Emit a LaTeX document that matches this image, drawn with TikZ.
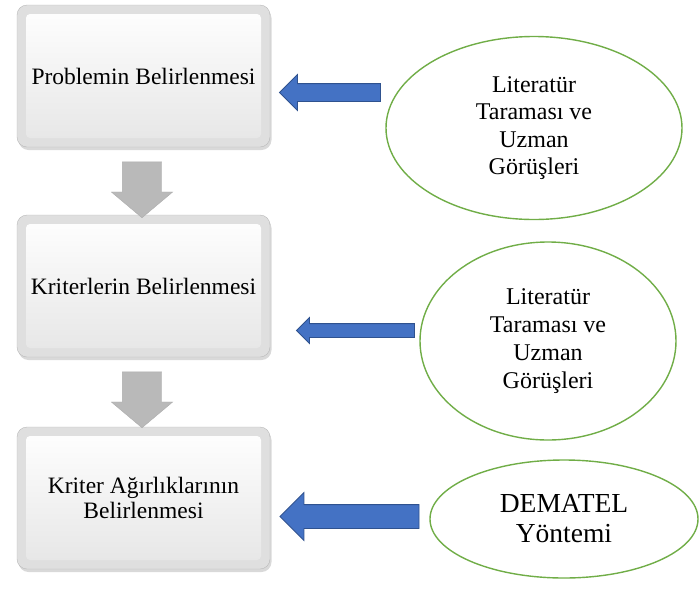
\documentclass[tikz,border=0pt]{standalone}
\usepackage{fontspec}
\setmainfont{Liberation Serif}
\usepackage{tikz}
\usetikzlibrary{shapes.geometric,shapes.arrows,shadows}
\definecolor{leafgreen}{RGB}{112,173,71}
\definecolor{arrowblue}{RGB}{68,114,196}
\definecolor{arrowedge}{RGB}{47,82,143}
\tikzset{
stagebox/.style = {rectangle, rounded corners=10pt, draw=gray!55, fill=gray!25,
              minimum width=253pt, minimum height=142pt, align=center,
              font=\fontsize{23.5}{25}\selectfont,
              drop shadow={opacity=0.3, shadow xshift=1.5pt, shadow yshift=-3pt},
              path picture={\shade[top color=white, bottom color=gray!20, rounded corners=4pt]
                ([shift={(9pt,-9pt)}]path picture bounding box.north west) rectangle
                ([shift={(-9pt,9pt)}]path picture bounding box.south east);}},
source/.style = {ellipse, draw=leafgreen, line width=1.4pt, align=center,
              inner sep=0pt},
down/.style = {single arrow, shape border rotate=270, fill=gray!55, draw=gray!65,
              minimum height=53pt, minimum width=61pt, inner sep=19.5pt,
              single arrow head extend=11pt, single arrow tip angle=100},
feed/.style = {single arrow, shape border rotate=180, fill=arrowblue,
              draw=arrowedge, line width=0.8pt, single arrow tip angle=90}
}

\begin{document}
\begin{tikzpicture}[x=1pt, y=-1pt]
\useasboundingbox (0,0) rectangle (699,598);

% stages
\node[stagebox] (prob) at (143.5,76) {Problemin Belirlenmesi};
\node[stagebox] (krit) at (143.5,286) {Kriterlerin Belirlenmesi};
\node[stagebox] (agir) at (143.5,498) {Kriter Ağırlıklarının\\Belirlenmesi};

% gray arrows between stages
\node[down] (d1) at (142,181.5) {};
\node[down] (d2) at (142,391.5) {};

% sources
\node[source, minimum width=296pt, minimum height=183pt,
      font=\fontsize{24}{27.5}\selectfont] (lit1) at (534,128)
      {Literatür\\Taraması ve\\Uzman\\Görüşleri};
\node[source, minimum width=256pt, minimum height=198pt,
      font=\fontsize{24}{28}\selectfont] (lit2) at (548,341)
      {Literatür\\Taraması ve\\Uzman\\Görüşleri};
\node[source, minimum width=268pt, minimum height=118pt,
      font=\fontsize{27.5}{30}\selectfont] (dem) at (564,519)
      {DEMATEL\\Yöntemi};

% blue arrows
\node[feed, minimum height=101pt, minimum width=35pt, inner sep=8.5pt,
      single arrow head extend=9pt] (f1) at (334.5,92.5) {};
\node[feed, minimum height=118pt, minimum width=25pt, inner sep=6.5pt,
      single arrow head extend=6pt] (f2) at (359,330.5) {};
\node[feed, minimum height=139pt, minimum width=47pt, inner sep=11.5pt,
      single arrow head extend=12pt] (f3) at (355.5,516.5) {};
\end{tikzpicture}
\end{document}
